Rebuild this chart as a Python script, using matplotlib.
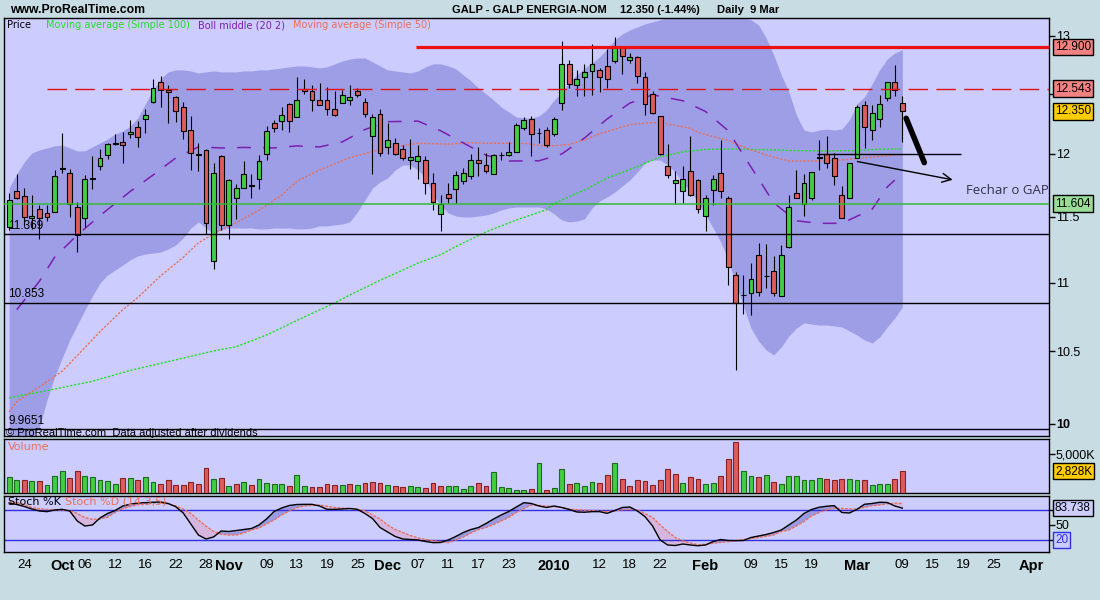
import matplotlib
matplotlib.use("Agg")
import matplotlib.pyplot as plt
from matplotlib.ticker import FixedLocator, NullLocator
import numpy as np
import pandas as pd

plt.rcParams['font.family'] = ['Liberation Sans', 'DejaVu Sans']

# trading sessions, first bar on 22 Sep 2009
holidays = pd.to_datetime(['2009-12-25', '2010-01-01'])
sessions = pd.bdate_range('2009-09-22', '2010-04-09')
sessions = sessions[~sessions.isin(holidays)]

opens = [
    11.42, 11.70, 11.66, 11.49, 11.56, 11.53, 11.54, 11.89, 11.85, 11.58,
    11.49, 11.80, 11.90, 11.99, 12.085, 12.10, 12.16, 12.22, 12.29, 12.43,
    12.60, 12.53, 12.47, 12.39, 12.20, 12.00, 12.03, 11.16, 11.98, 11.44,
    11.65, 11.73, 11.75, 11.80, 12.00, 12.25, 12.27, 12.41, 12.30, 12.54,
    12.52, 12.45, 12.45, 12.37, 12.42, 12.45, 12.52, 12.43, 12.15, 12.33,
    12.06, 12.09, 12.04, 11.95, 11.94, 11.95, 11.77, 11.52, 11.68, 11.72,
    11.78, 11.82, 11.95, 11.91, 11.84, 11.988, 11.99, 12.02, 12.21, 12.29,
    12.175, 12.20, 12.16, 12.42, 12.75, 12.57, 12.64, 12.69, 12.70, 12.74,
    12.78, 12.90, 12.79, 12.81, 12.64, 12.50, 12.31, 11.90, 11.77, 11.70,
    11.86, 11.79, 11.51, 11.71, 11.85, 11.65, 11.06, 10.907, 10.92, 11.21,
    11.053, 11.09, 10.90, 11.27, 11.69, 11.60, 11.65, 11.972, 12.00, 11.97,
    11.67, 11.65, 11.97, 12.40, 12.20, 12.29, 12.46, 12.60, 12.42,
]
highs = [
    11.69, 11.84, 11.73, 11.67, 11.59, 11.59, 11.87, 12.17, 11.88, 11.62,
    11.83, 11.98, 12.04, 12.09, 12.16, 12.18, 12.28, 12.27, 12.37, 12.62,
    12.65, 12.57, 12.48, 12.43, 12.31, 12.09, 12.04, 11.93, 11.99, 11.80,
    11.76, 11.94, 11.84, 11.99, 12.23, 12.28, 12.39, 12.42, 12.64, 12.62,
    12.57, 12.59, 12.56, 12.52, 12.53, 12.57, 12.55, 12.46, 12.33, 12.37,
    12.25, 12.13, 12.07, 12.12, 12.07, 11.98, 11.85, 11.67, 11.77, 11.86,
    11.89, 12.00, 12.06, 12.01, 12.00, 12.02, 12.10, 12.25, 12.30, 12.31,
    12.21, 12.22, 12.30, 12.95, 12.79, 12.70, 12.75, 12.93, 12.72, 12.88,
    12.99, 12.91, 12.85, 12.82, 12.68, 12.52, 12.31, 12.08, 11.86, 11.90,
    12.15, 11.80, 11.67, 11.83, 12.11, 11.66, 11.08, 11.06, 11.15, 11.30,
    11.29, 11.20, 11.28, 11.67, 11.87, 11.84, 11.855, 12.11, 12.15, 12.01,
    11.74, 11.93, 12.40, 12.44, 12.40, 12.49, 12.60, 12.745, 12.48,
]
lows = [
    11.40, 11.64, 11.43, 11.41, 11.33, 11.47, 11.54, 11.85, 11.50, 11.23,
    11.42, 11.72, 11.87, 11.96, 12.07, 11.93, 12.13, 12.06, 12.17, 12.42,
    12.39, 12.25, 12.26, 12.12, 11.87, 11.86, 11.37, 11.10, 11.40, 11.33,
    11.48, 11.73, 11.65, 11.72, 11.95, 12.18, 12.20, 12.18, 12.30, 12.50,
    12.35, 12.40, 12.32, 12.31, 12.42, 12.40, 12.47, 12.30, 11.84, 11.98,
    12.00, 11.99, 11.95, 11.88, 11.80, 11.68, 11.55, 11.39, 11.61, 11.61,
    11.76, 11.80, 11.82, 11.85, 11.84, 11.95, 11.98, 12.02, 12.20, 11.98,
    12.09, 12.06, 12.15, 12.36, 12.55, 12.48, 12.48, 12.49, 12.51, 12.55,
    12.76, 12.67, 12.76, 12.59, 12.32, 12.33, 11.99, 11.81, 11.60, 11.61,
    11.66, 11.53, 11.39, 11.59, 11.65, 10.98, 10.37, 10.77, 10.76, 10.90,
    10.96, 10.90, 10.90, 11.26, 11.65, 11.51, 11.63, 11.87, 11.89, 11.75,
    11.49, 11.65, 11.97, 12.05, 12.11, 12.22, 12.44, 12.48, 12.10,
]
closes = [
    11.63, 11.65, 11.50, 11.51, 11.49, 11.50, 11.82, 11.88, 11.60, 11.36,
    11.80, 11.81, 11.97, 12.08, 12.09, 12.076, 12.18, 12.14, 12.32, 12.55,
    12.53, 12.51, 12.35, 12.19, 12.01, 11.99, 11.45, 11.85, 11.44, 11.79,
    11.73, 11.84, 11.745, 11.94, 12.19, 12.21, 12.32, 12.27, 12.45, 12.52,
    12.45, 12.40, 12.37, 12.32, 12.49, 12.47, 12.49, 12.33, 12.30, 12.01,
    12.11, 12.00, 11.965, 11.973, 11.98, 11.77, 11.62, 11.60, 11.65, 11.83,
    11.85, 11.95, 11.93, 11.86, 11.99, 11.995, 12.02, 12.24, 12.28, 12.16,
    12.17, 12.07, 12.29, 12.75, 12.58, 12.62, 12.68, 12.75, 12.64, 12.62,
    12.90, 12.82, 12.81, 12.65, 12.41, 12.34, 12.00, 11.83, 11.79, 11.80,
    11.67, 11.56, 11.65, 11.80, 11.70, 11.12, 10.85, 10.908, 11.03, 10.93,
    11.049, 10.92, 11.21, 11.58, 11.65, 11.77, 11.853, 11.968, 11.93, 11.82,
    11.49, 11.925, 12.39, 12.22, 12.34, 12.41, 12.60, 12.53, 12.35,
]
# volume in thousands of shares
volume = [
    2051, 1709, 1709, 1581, 1581, 1068, 2222, 2863, 1923, 2863,
    2222, 2094, 1709, 1581, 1196, 1923, 1923, 1709, 2094, 1453,
    1196, 1666, 1068, 1068, 1453, 1196, 3205, 1795, 1923, 940,
    1196, 1453, 1068, 1837, 1282, 1196, 1196, 940, 2350, 940,
    812, 812, 1196, 1068, 1068, 1196, 1068, 1325, 1453, 1325,
    1068, 940, 812, 940, 812, 684, 1325, 940, 940, 940,
    556, 940, 1325, 940, 2735, 812, 684, 427, 427, 556,
    3889, 427, 641, 3077, 1154, 1282, 897, 1410, 1282, 2307,
    3846, 1795, 897, 1666, 1538, 1026, 1666, 3077, 2436, 1282,
    2051, 1795, 1154, 1282, 2179, 4358, 6538, 2820, 2179, 2051,
    2307, 1410, 1154, 2179, 2179, 1666, 1666, 1923, 1795, 1666,
    1795, 1795, 1666, 1666, 1026, 1154, 1154, 1795, 2828,
]
# Bollinger (20, 2) envelope
boll_upper = [
    11.727, 11.839, 11.935, 12.008, 12.033, 12.049, 12.066, 12.074, 12.049, 12.025,
    12.025, 12.057, 12.090, 12.122, 12.163, 12.188, 12.229, 12.296, 12.414, 12.531,
    12.625, 12.685, 12.702, 12.702, 12.693, 12.676, 12.685, 12.693, 12.685, 12.685,
    12.685, 12.693, 12.693, 12.702, 12.702, 12.711, 12.719, 12.728, 12.736, 12.736,
    12.728, 12.719, 12.728, 12.754, 12.779, 12.796, 12.805, 12.805, 12.771, 12.736,
    12.702, 12.693, 12.685, 12.676, 12.693, 12.728, 12.754, 12.754, 12.736, 12.711,
    12.659, 12.608, 12.548, 12.497, 12.447, 12.388, 12.346, 12.304, 12.296, 12.296,
    12.313, 12.363, 12.447, 12.506, 12.599, 12.659, 12.719, 12.762, 12.814, 12.884,
    12.962, 13.015, 13.050, 13.077, 13.104, 13.121, 13.14, 13.16, 13.18, 13.19,
    13.20, 13.21, 13.21, 13.21, 13.20, 13.19, 13.18, 13.16, 13.14, 13.094,
    12.980, 12.832, 12.659, 12.514, 12.321, 12.196, 12.180, 12.196, 12.204, 12.196,
    12.204, 12.279, 12.414, 12.472, 12.582, 12.702, 12.796, 12.849, 12.875,
]
boll_lower = [
    9.789, 9.822, 9.855, 9.909, 9.976, 10.160, 10.320, 10.453, 10.581, 10.689,
    10.798, 10.901, 10.997, 11.057, 11.094, 11.132, 11.170, 11.200, 11.215, 11.222,
    11.230, 11.253, 11.284, 11.338, 11.414, 11.461, 11.414, 11.376, 11.399, 11.414,
    11.414, 11.414, 11.414, 11.407, 11.407, 11.414, 11.414, 11.414, 11.407, 11.407,
    11.414, 11.430, 11.430, 11.438, 11.445, 11.461, 11.538, 11.632, 11.727, 11.775,
    11.807, 11.871, 11.911, 11.911, 11.871, 11.807, 11.672, 11.593, 11.531, 11.507,
    11.499, 11.499, 11.507, 11.515, 11.531, 11.554, 11.570, 11.577, 11.577, 11.577,
    11.577, 11.562, 11.523, 11.476, 11.461, 11.468, 11.484, 11.570, 11.624, 11.656,
    11.695, 11.743, 11.791, 11.855, 11.927, 11.951, 11.951, 11.911, 11.855, 11.767,
    11.703, 11.617, 11.515, 11.414, 11.307, 11.170, 10.989, 10.827, 10.667, 10.574,
    10.510, 10.475, 10.531, 10.610, 10.667, 10.704, 10.696, 10.689, 10.689, 10.682,
    10.675, 10.646, 10.617, 10.581, 10.560, 10.603, 10.675, 10.740, 10.820,
]
# indicator lines read at selected sessions (session number, value)
mid_day = [1, 4, 6, 9, 12, 16, 19, 22, 25, 28, 31, 35, 38, 41, 44, 47, 50, 54, 57, 60,
           63, 66, 70, 73, 76, 79, 82, 85, 89, 92, 95, 97, 99, 101, 104, 107, 110, 114, 116, 117]
boll_mid = [10.80, 11.01, 11.19, 11.36, 11.51, 11.70, 11.83, 11.967, 12.057, 12.049,
            12.053, 12.049, 12.066, 12.057, 12.098, 12.20, 12.265, 12.27, 12.19, 12.09,
            11.99, 11.943, 11.945, 12.00, 12.13, 12.288, 12.42, 12.49, 12.44, 12.35,
            12.19, 11.99, 11.80, 11.61, 11.47, 11.45, 11.45, 11.56, 11.735, 11.79]
ma50_day = [0, 1, 4, 7, 9, 12, 15, 17, 20, 23, 25, 28, 30, 33, 36, 38, 41, 45, 48, 50,
            54, 58, 61, 63, 68, 71, 74, 76, 78, 82, 85, 87, 90, 91, 95, 98, 101, 103, 107, 110,
            114, 117, 118]
ma50 = [10.078, 10.15, 10.252, 10.36, 10.47, 10.641, 10.80, 10.89, 11.05, 11.19,
        11.30, 11.40, 11.455, 11.553, 11.67, 11.78, 11.871, 11.97, 12.02, 12.05,
        12.087, 12.08, 12.092, 12.087, 12.087, 12.062, 12.078, 12.114, 12.166, 12.24,
        12.258, 12.246, 12.21, 12.175, 12.11, 12.033, 11.973, 11.943, 11.943, 11.951,
        11.975, 11.992, 11.995]
ma100_day = [0, 5, 11, 16, 22, 27, 30, 34, 38, 43, 45, 49, 54, 57, 59, 63, 67, 71, 72, 76,
             79, 83, 86, 89, 92, 96, 101, 104, 108, 112, 115, 118]
ma100 = [10.175, 10.225, 10.29, 10.366, 10.44, 10.503, 10.533, 10.617, 10.722, 10.85,
         10.908, 11.017, 11.146, 11.21, 11.271, 11.384, 11.476, 11.556, 11.606, 11.711,
         11.806, 11.898, 11.976, 12.017, 12.037, 12.04, 12.033, 12.027, 12.025, 12.027,
         12.039, 12.041]
# stochastic (14, 3, 5)
stoch_k = [
    94, 91, 87, 82, 78, 76.7, 80, 81.3, 78, 58,
    48, 50, 64, 73, 79, 88, 91.5, 94, 94.7, 95.5,
    96, 93, 86.7, 74, 52, 30, 22, 26, 38, 37,
    39, 41, 43, 50, 62, 77, 84, 89, 91, 91.3,
    91.3, 88, 81.3, 81.3, 82, 83, 81.3, 73, 63, 45,
    36, 27, 22, 21, 20, 17, 14.7, 15, 20, 27,
    35, 41, 45, 53, 62, 70, 77, 86, 94.7, 93,
    88, 85, 88, 85, 81, 76, 75.5, 76.7, 76.7, 73.3,
    79, 85, 86, 78, 66.7, 48, 20, 10, 9, 12,
    10, 8.5, 10, 17, 21, 19, 18.7, 19, 25, 28,
    31, 35, 40, 50, 60, 73, 81, 85.5, 87.5, 88.7,
    75, 74, 81.3, 91.5, 93, 95.5, 95, 88, 83.738,
]
stoch_d = [
    96, 95, 91, 85, 82.5, 81, 80.3, 79.5, 78.7, 73,
    65, 61.3, 62, 65.5, 75, 83, 87, 90.5, 92.5, 94.3,
    94, 92.5, 88, 82, 73, 60, 48, 37, 31.5, 30,
    30, 34, 40, 44, 52, 60, 70, 78, 84.5, 88,
    89, 90, 87.5, 85, 84, 83.3, 81, 78.7, 70, 62,
    50, 41, 35, 29, 24, 21, 18.7, 16.5, 14.7, 20,
    26, 34, 41, 45, 51, 58, 65, 75, 83, 90,
    89, 88, 86.5, 85, 82, 80.5, 79.5, 78.7, 77.5, 77,
    78, 80.5, 81, 80, 73, 65, 50, 37, 25, 18,
    14, 10.5, 11.5, 13.5, 15.3, 16.7, 19, 21, 23, 25,
    27.5, 30, 37, 40, 48, 57, 68, 75, 81, 83.3,
    83.3, 82, 82, 85.3, 88.5, 90, 92.5, 93.3, 93.3,
]
# support / resistance levels
level_resist = 12.900
level_dashed = 12.543
level_green = 11.604
level_black = [11.369, 10.853]
level_floor = 9.9651
# hand drawn notes: (session, price)
gap_line = [(106.7, 12.0), (125.7, 12.0)]
gap_arrow = [(111.7, 11.943), (125.0, 11.788)]
down_stroke = [(118.5, 12.293), (120.9, 11.93)]
gap_note = (126.4, 11.711)

tick_dates = ['2009-09-24', '2009-10-01', '2009-10-06', '2009-10-12', '2009-10-16',
              '2009-10-22', '2009-10-28', '2009-11-02', '2009-11-09', '2009-11-13',
              '2009-11-19', '2009-11-25', '2009-12-01', '2009-12-07', '2009-12-11',
              '2009-12-17', '2009-12-23', '2010-01-04', '2010-01-12', '2010-01-18',
              '2010-01-22', '2010-02-01', '2010-02-09', '2010-02-15', '2010-02-19',
              '2010-03-01', '2010-03-09', '2010-03-15', '2010-03-19', '2010-03-25',
              '2010-04-01']
tick_text = ['24', 'Oct', '06', '12', '16', '22', '28', 'Nov', '09', '13', '19', '25',
             'Dec', '07', '11', '17', '23', '2010', '12', '18', '22', 'Feb', '09', '15',
             '19', 'Mar', '09', '15', '19', '25', 'Apr']
month_labels = {'Oct', 'Nov', 'Dec', '2010', 'Feb', 'Mar', 'Apr'}

BG = '#c8dce4'
PANEL = '#ccccff'
BAND = '#9e9ee6'
GREEN = '#44cc44'
RED = '#dd5c5c'
SALMON = '#e8705a'

o, h, l, c = (np.array(v) for v in (opens, highs, lows, closes))
x = np.arange(len(c))
xlim = (-0.68, 137.37)

fig = plt.figure(figsize=(11, 6), dpi=100, facecolor=BG)
W = 1045 / 1100
ax_p = fig.add_axes([4 / 1100, 1 - 436 / 600, W, 418 / 600])
ax_v = fig.add_axes([4 / 1100, 1 - 493.3 / 600, W, 54 / 600], sharex=ax_p)
ax_s = fig.add_axes([4 / 1100, 1 - 552.3 / 600, W, 56 / 600], sharex=ax_p)

for ax in (ax_p, ax_v, ax_s):
    ax.set_facecolor(PANEL)
    for sp in ax.spines.values():
        sp.set_linewidth(1)
        sp.set_color('black')
    ax.yaxis.tick_right()
    ax.tick_params(axis='y', direction='out', length=4, width=1, pad=1, labelsize=9)
ax_p.set_xlim(*xlim)

# ---- price panel
ax_p.set_yscale('log')
ax_p.set_ylim(9.916, 13.156)
ax_p.fill_between(x, boll_lower, boll_upper, color=BAND, lw=0, zorder=0.5)

ax_p.plot(ma100_day, ma100, color='#22e022', lw=1, dashes=(1.6, 1.2), zorder=2)
ax_p.plot(ma50_day, ma50, color=SALMON, lw=1, dashes=(1.6, 1.2), zorder=2)
ax_p.plot(mid_day, boll_mid, color='#7a1fb0', lw=1.1, dashes=(9, 8), zorder=2)

ax_p.vlines(x, l, h, color='black', lw=0.8, zorder=3)
up = c >= o
ax_p.bar(x, np.abs(c - o), bottom=np.minimum(o, c), width=0.64,
         color=np.where(up, GREEN, RED), edgecolor='black', linewidth=0.8, zorder=4)

ax_p.axhline(level_green, color='#33bb33', lw=1.1, zorder=5)
for lv in level_black:
    ax_p.axhline(lv, color='black', lw=1, zorder=5)
ax_p.axhline(level_floor, color='black', lw=1, zorder=5)
ax_p.hlines(level_dashed, 5.0, 140, color='#dd1111', lw=1, linestyles=(0, (14, 6)), zorder=5)
ax_p.hlines(level_resist, 53.7, 140, color='#ee1111', lw=2.3, zorder=5)

(gx0, gy0), (gx1, gy1) = gap_line
ax_p.hlines(gy0, gx0, gx1, color='black', lw=1, zorder=5)
ax_p.annotate('', xy=gap_arrow[1], xytext=gap_arrow[0],
              arrowprops=dict(arrowstyle='->', color='black', lw=1, mutation_scale=16), zorder=5)
ax_p.plot(*zip(*down_stroke), color='black', lw=4, solid_capstyle='round', zorder=5)
ax_p.text(gap_note[0], gap_note[1], 'Fechar o GAP', fontsize=9.5, color='#333344',
          family=['Open Sans', 'DejaVu Sans'], va='center', ha='left', zorder=6)

for lv, txt in zip(level_black + [level_floor], ['11.369', '10.853', '9.9651']):
    ax_p.annotate(txt, xy=(0.004, lv), xycoords=ax_p.get_yaxis_transform(),
                  xytext=(0, 1.5), textcoords='offset points', fontsize=8.5,
                  va='bottom', ha='left', zorder=6)
ax_p.text(0.002, 9.938, '\u00a9 ProRealTime.com  Data adjusted after dividends',
          transform=ax_p.get_yaxis_transform(), fontsize=8, va='center', ha='left', zorder=6)

price_ticks = [10, 10.5, 11, 11.5, 12, 12.5, 13]
ax_p.yaxis.set_major_locator(FixedLocator(price_ticks))
ax_p.yaxis.set_minor_locator(NullLocator())
# 12.5 sits under the 12.543 marker, so only its tick is kept
ax_p.set_yticklabels(['10', '10.5', '11', '11.5', '12', '', '13'])
for lab in ax_p.get_yticklabels():
    if lab.get_text() == '10':
        lab.set_fontweight('bold')


def right_box(ax, y, txt, fc, ec='black', tc='black'):
    ax.text(1.0057, y, txt, transform=ax.get_yaxis_transform(), fontsize=8.5, color=tc,
            va='center', ha='left', clip_on=False, zorder=10,
            bbox=dict(boxstyle='square,pad=0.18', fc=fc, ec=ec, lw=1))


right_box(ax_p, level_resist, '12.900', '#f08282')
right_box(ax_p, level_dashed, '12.543', '#f08282')
right_box(ax_p, closes[-1], '%.3f' % closes[-1], '#ffcc00')
right_box(ax_p, level_green, '11.604', '#99dd99')

# legend row
legend = [('Price', 'black', 7), ('Moving average (Simple 100)', '#22dd22', 46),
          ('Boll middle (20 2)', '#7a1fb0', 198), ('Moving average (Simple 50)', SALMON, 293)]
for txt, col, px in legend:
    fig.text(px / 1100, 1 - 25 / 600, txt, color=col, fontsize=7,
             family='DejaVu Sans', va='center', ha='left')

fig.text(10 / 1100, 1 - 10 / 600, 'www.ProRealTime.com', fontsize=8.8, fontweight='bold',
         va='center', ha='left')
header = [('GALP - GALP ENERGIA-NOM', 452), ('12.350 (-1.44%)', 620), ('Daily  9 Mar', 717)]
for txt, px in header:
    fig.text(px / 1100, 1 - 10 / 600, txt, fontsize=8, fontweight='bold',
             va='center', ha='left')

# ---- volume panel
vol_up = np.r_[True, c[1:] >= c[:-1]]
ax_v.bar(x, volume, width=0.64, color=np.where(vol_up, GREEN, RED),
         edgecolor=np.where(vol_up, '#1d6b1d', '#8b2020'), linewidth=0.8, zorder=3)
ax_v.set_ylim(0, 6923)
ax_v.yaxis.set_major_locator(FixedLocator([5000]))
ax_v.set_yticklabels(['5,000K'])
right_box(ax_v, volume[-1], '{:,}K'.format(volume[-1]), '#ffcc00')
ax_v.text(0.004, 0.86, 'Volume', transform=ax_v.transAxes, color=SALMON, fontsize=8,
          family='DejaVu Sans', va='center', ha='left')

# ---- stochastic panel
k = np.array(stoch_k)
d = np.array(stoch_d)
ax_s.set_ylim(-4.6, 107.4)
ax_s.fill_between(x, k, d, where=k >= d, interpolate=True, color='#9b9be3', lw=0, zorder=1)
ax_s.fill_between(x, k, d, where=k < d, interpolate=True, color='#d6b6de', lw=0, zorder=1)
ax_s.axhline(20, color='#3030dd', lw=1, zorder=2)
ax_s.axhline(80, color='#3030dd', lw=1, zorder=2)
ax_s.plot(x, d, color=SALMON, lw=1, dashes=(2, 1), zorder=3)
ax_s.plot(x, k, color='black', lw=1, zorder=4)
ax_s.yaxis.set_major_locator(FixedLocator([20, 50, 80]))
ax_s.set_yticklabels(['', '50', ''])
right_box(ax_s, k[-1], '%.3f' % k[-1], PANEL)
right_box(ax_s, 20, '20', PANEL, ec='#3030dd', tc='#3030dd')
ax_s.text(0.004, 0.9, 'Stoch %K', transform=ax_s.transAxes, color='black', fontsize=8,
          family='DejaVu Sans', va='center', ha='left', zorder=6)
ax_s.text(0.058, 0.9, 'Stoch %D (14,3,5)', transform=ax_s.transAxes, color=SALMON,
          fontsize=8, family='DejaVu Sans', va='center', ha='left', zorder=6)

# ---- date axis
tick_pos = [sessions.get_loc(pd.Timestamp(t)) for t in tick_dates]
for ax in (ax_p, ax_v):
    ax.tick_params(axis='x', length=0, labelbottom=False)
ax_s.xaxis.set_major_locator(FixedLocator(tick_pos))
ax_s.set_xticklabels(tick_text)
ax_s.tick_params(axis='x', length=0, pad=5, labelsize=9.5)
for lab in ax_s.get_xticklabels():
    if lab.get_text() in month_labels:
        lab.set_fontweight('bold')
        lab.set_fontsize(10.5)
ax_s.set_xlim(*xlim)

fig.savefig('out.png', dpi=100, facecolor=BG)
